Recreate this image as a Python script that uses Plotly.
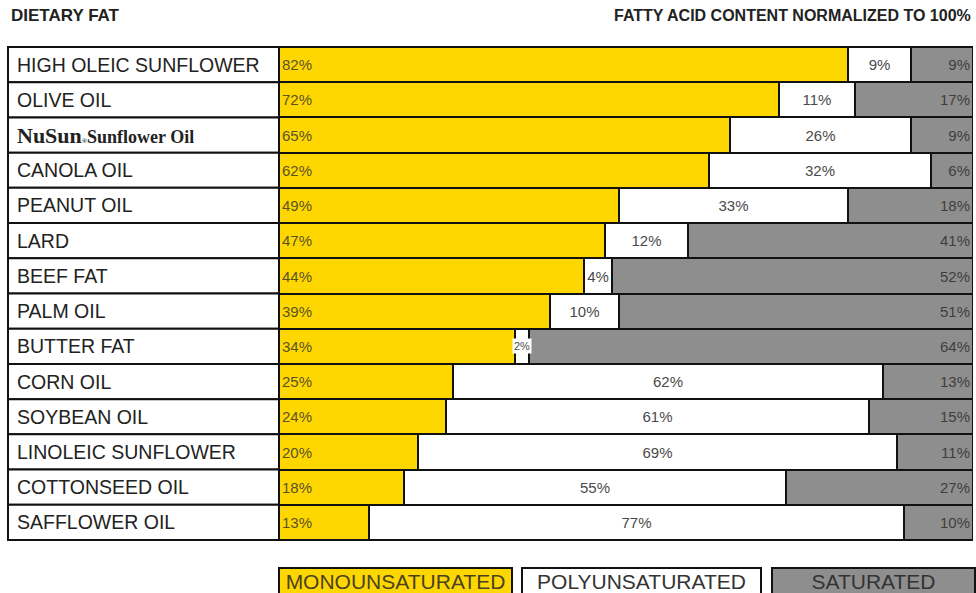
import plotly.graph_objects as go

# Dietary fats, top to bottom
fats = [
    "HIGH OLEIC SUNFLOWER", "OLIVE OIL", "NUSUN", "CANOLA OIL", "PEANUT OIL",
    "LARD", "BEEF FAT", "PALM OIL", "BUTTER FAT", "CORN OIL", "SOYBEAN OIL",
    "LINOLEIC SUNFLOWER", "COTTONSEED OIL", "SAFFLOWER OIL",
]
# Row label text (the NuSun brand name is set in a serif face)
fat_labels = [
    "HIGH OLEIC SUNFLOWER", "OLIVE OIL",
    '<span style="font-family:\'Liberation Serif\'"><b><span style="font-size:22px">NuSun</span>'
    '<span style="font-size:7px">®</span><span style="font-size:18px">Sunflower Oil</span></b></span>',
    "CANOLA OIL", "PEANUT OIL", "LARD", "BEEF FAT", "PALM OIL", "BUTTER FAT",
    "CORN OIL", "SOYBEAN OIL", "LINOLEIC SUNFLOWER", "COTTONSEED OIL", "SAFFLOWER OIL",
]
mono = [82, 72, 65, 62, 49, 47, 44, 39, 34, 25, 24, 20, 18, 13]
poly = [9, 11, 26, 32, 33, 12, 4, 10, 2, 62, 61, 69, 55, 77]
sat = [9, 17, 9, 6, 18, 41, 52, 51, 64, 13, 15, 11, 27, 10]

series_names = ["MONOUNSATURATED", "POLYUNSATURATED", "SATURATED"]
YELLOW = "#FFD700"
WHITE = "#FFFFFF"
GRAY = "#8E8E8E"
FONT = "Liberation Sans"
TINY = 3  # segments narrower than this get their label drawn on top of the bar

L, R, T, B = 8, 3, 46, 52
W, H = 976, 593
PW = W - L - R
X0 = (279 - L) / PW  # start of the bar area in paper units


def px(xpix):
    return (xpix - L) / PW


fig = go.Figure()
for vals, name, color, anchor, tcol in [
    (mono, series_names[0], YELLOW, "start", "#5b5228"),
    (poly, series_names[1], WHITE, "middle", "#4a4a4a"),
    (sat, series_names[2], GRAY, "end", "#3e3e3e"),
]:
    fig.add_trace(go.Bar(
        y=fats, x=vals, orientation="h", name=name,
        marker=dict(color=color, line=dict(color="#111111", width=2)),
        text=[f"{v}%" if v >= TINY else "" for v in vals],
        textposition="inside", textangle=0,
        insidetextanchor=anchor,
        insidetextfont=dict(family=FONT, size=15, color=tcol),
        cliponaxis=False, showlegend=False,
    ))

# Labels for very thin polyunsaturated segments, in a small white tag
for fat, m, p in zip(fats, mono, poly):
    if p < TINY:
        fig.add_annotation(xref="x", yref="y", x=m + p / 2, y=fat, text=f"{p}%",
                           showarrow=False, xanchor="center", yanchor="middle",
                           bgcolor="white", borderpad=1,
                           font=dict(family=FONT, size=11, color="#4a4a4a"))

# Label column: one boxed cell per fat, on the same category scale
for i, lab in enumerate(fat_labels):
    fig.add_shape(type="rect", xref="paper", yref="y", x0=0, x1=X0,
                  y0=i - 0.5, y1=i + 0.5, line=dict(color="#111111", width=2),
                  fillcolor="white", layer="below")
    fig.add_annotation(xref="paper", yref="y", x=px(15), y=i, text=lab,
                       showarrow=False, xanchor="left", yanchor="middle",
                       font=dict(family=FONT, size=19.5, color="#222222"))

# Headings
fig.add_annotation(xref="paper", yref="paper", x=px(9), y=1, yshift=31,
                   text="<b>DIETARY FAT</b>", showarrow=False, xanchor="left",
                   yanchor="middle", font=dict(family=FONT, size=17, color="#222222"))
fig.add_annotation(xref="paper", yref="paper", x=1, y=1, yshift=31,
                   text="<b>FATTY ACID CONTENT NORMALIZED TO 100%</b>", showarrow=False,
                   xanchor="right", yanchor="middle",
                   font=dict(family=FONT, size=16, color="#222222"))

# Key boxes beneath the chart
for name, color, tcol, left, right in [
    (series_names[0], YELLOW, "#4a4220", 278, 513),
    (series_names[1], WHITE, "#333333", 521, 762),
    (series_names[2], GRAY, "#333333", 771, 976),
]:
    fig.add_annotation(xref="paper", yref="paper", x=px((left + right) / 2), y=0,
                       yshift=-40, text=name, showarrow=False, xanchor="center",
                       yanchor="middle", width=right - left - 4, height=24,
                       bgcolor=color, bordercolor="#111111", borderwidth=2, borderpad=0,
                       font=dict(family=FONT, size=21, color=tcol))

fig.update_layout(
    width=W, height=H, barmode="stack", bargap=0,
    margin=dict(l=L, r=R, t=T, b=B),
    paper_bgcolor="white", plot_bgcolor="white",
    xaxis=dict(domain=[X0, 1], range=[0, 100], visible=False, fixedrange=True),
    yaxis=dict(autorange="reversed", visible=False, fixedrange=True),
)

fig.write_html("out.html")
